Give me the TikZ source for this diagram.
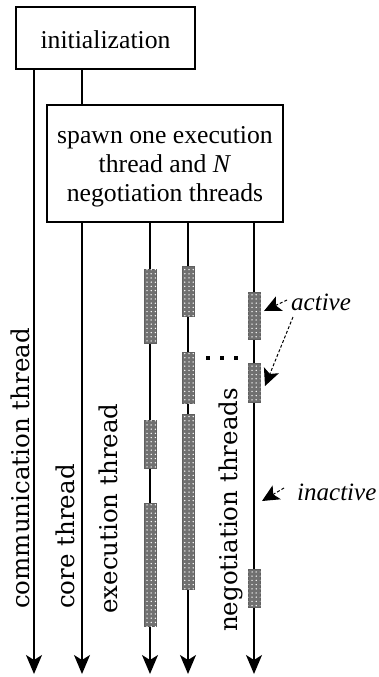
\documentclass[tikz,border=0pt]{standalone}
\usepackage{fontspec}
\setmainfont{Liberation Serif}
\newfontfamily\vlabfont{DejaVu Serif}
\usetikzlibrary{arrows.meta,patterns.meta}
\definecolor{barg}{HTML}{707070}
\tikzset{
  box/.style={draw, line width=1.4pt, fill=white, inner sep=0pt, font=\fontsize{25.7}{29}\selectfont},
  thread/.style={line width=1.4pt, -{Stealth[length=19pt,width=16pt,inset=5pt]}},
  link/.style={line width=1.4pt},
  actbar/.style={draw=barg!85!black, line width=0.5pt, fill=barg, minimum width=12.5pt, inner sep=0pt,
    postaction={pattern={Dots[distance=4.2pt,radius=0.75pt]}, pattern color=white}},
  vlab/.style={rotate=90, anchor=base west, inner sep=0pt, font=\vlabfont\fontsize{24.5}{28}\selectfont},
  note/.style={font=\itshape\fontsize{25}{28}\selectfont, inner sep=0pt, anchor=base west},
  notearrow/.style={line width=1pt, dash pattern=on 3pt off 2pt, -{Stealth[length=17pt,width=16pt,inset=4pt]}},
  dotsq/.style={fill=black, minimum size=4.5pt, inner sep=0pt}
}
\begin{document}
\begin{tikzpicture}[x=1pt,y=-1pt]
\useasboundingbox (0,0) rectangle (379,677);
% boxes
\node[box, minimum width=179pt, minimum height=62pt] (init) at (105.5,38)
  {\raisebox{-1.5pt}[\height][\depth]{initialization}};
\node[box, minimum width=236pt, minimum height=117pt] (spawn) at (165,163.5)
  {\raisebox{-3pt}[\height][\depth]{\begin{tabular}{@{}c@{}}spawn one execution\\thread and \textit{N}\\negotiation threads\end{tabular}}};
% thread end points
\coordinate (commS) at (34,69);
\coordinate (commE) at (34,674);
\coordinate (coreS) at (82,69);
\coordinate (coreM) at (82,105);
\coordinate (coreB) at (82,222);
\coordinate (coreE) at (82,674);
\coordinate (exS) at (150,222);
\coordinate (exE) at (150,674);
\coordinate (naS) at (188,222);
\coordinate (naE) at (188,674);
\coordinate (nbS) at (254,222);
\coordinate (nbE) at (254,674);
% threads
\draw[thread] (commS) -- (commE);
\draw[link] (coreS) -- (coreM);
\draw[thread] (coreB) -- (coreE);
\draw[thread] (exS) -- (exE);
\draw[thread] (naS) -- (naE);
\draw[thread] (nbS) -- (nbE);
% active bars
\node[actbar, minimum height=74pt] (e1) at (150,306) {};
\node[actbar, minimum height=48pt] (e2) at (150,444) {};
\node[actbar, minimum height=123pt] (e3) at (150,564.5) {};
\node[actbar, minimum height=50pt] (a1) at (188,291) {};
\node[actbar, minimum height=51pt] (a2) at (188,377.5) {};
\node[actbar, minimum height=175pt] (a3) at (188,501.5) {};
\node[actbar, minimum height=47pt] (b1) at (254,315.5) {};
\node[actbar, minimum height=39pt] (b2) at (254,382.5) {};
\node[actbar, minimum height=38pt] (b3) at (254,588) {};
% ellipsis
\node[dotsq] (d1) at (208,358) {};
\node[dotsq] (d2) at (222,358) {};
\node[dotsq] (d3) at (236,358) {};
% vertical labels
\node[vlab] (lcomm) at (29,609) {communication thread};
\node[vlab] (lcore) at (74,609) {core thread};
\node[vlab] (lexec) at (117,614) {execution thread};
\node[vlab] (lneg) at (237,632) {negotiation threads};
% annotations
\node[note] (act) at (291,310) {active};
\node[note] (inact) at (297,500) {inactive};
\coordinate (actA) at (287,300);
\coordinate (actB) at (293,317);
\coordinate (inA) at (284,488);
\coordinate (actT1) at (264,311);
\coordinate (actT2) at (265,386);
\coordinate (inT) at (262,501);
\draw[notearrow] (actA) -- (actT1);
\draw[notearrow] (actB) -- (actT2);
\draw[notearrow] (inA) -- (inT);
\end{tikzpicture}
\end{document}
